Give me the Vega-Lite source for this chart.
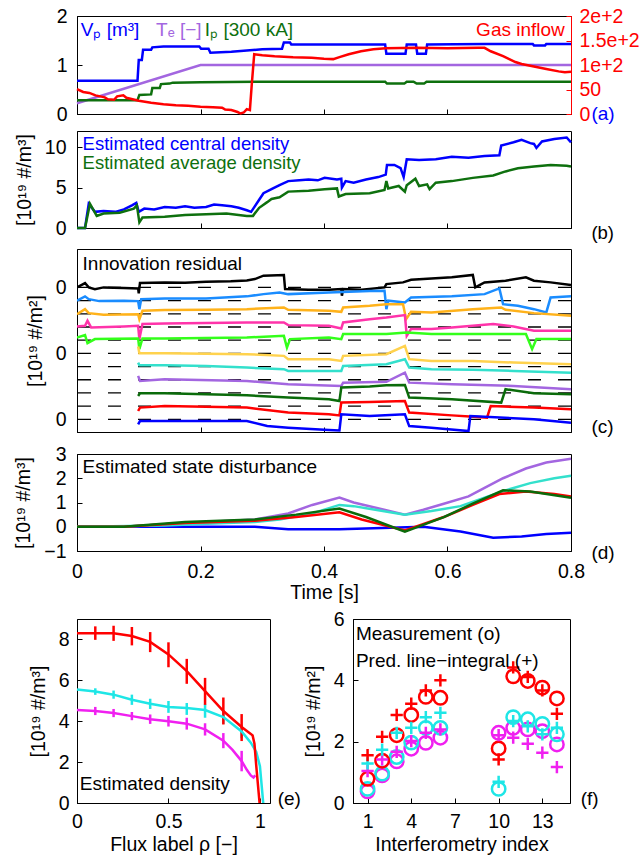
{
"$schema": "https://vega.github.io/schema/vega-lite/v6.json",
"padding": {"left": 13, "top": 5, "right": 0, "bottom": 0},
"spacing": 5,
"resolve": {"scale": {"color": "independent"}},
"config": {
 "font": "Liberation Sans",
 "view": {"stroke": "#000000", "strokeWidth": 1},
 "axis": {"grid": false, "domainColor": "#000000", "tickColor": "#000000", "tickSize": -5, "labelFontSize": 19.5, "labelColor": "#000000", "titleFontSize": 19.5, "titleFontWeight": "normal", "titleColor": "#000000", "labelPadding": 16, "titlePadding": 10, "labelFlush": false, "labelOverlap": false},
 "text": {"font": "Liberation Sans", "fontSize": 19}
},
"vconcat": [
{
 "width": 494, "height": 98,
 "layer": [
  {"layer": [
   {"data": {"values": [
    {"s":"Vp","t":0,"y":0.68},{"s":"Vp","t":0.098,"y":0.68},{"s":"Vp","t":0.1,"y":1.1},{"s":"Vp","t":0.105,"y":1.1},{"s":"Vp","t":0.107,"y":1.31},{"s":"Vp","t":0.12,"y":1.31},{"s":"Vp","t":0.122,"y":1.36},{"s":"Vp","t":0.14,"y":1.38},{"s":"Vp","t":0.198,"y":1.38},{"s":"Vp","t":0.201,"y":1.33},{"s":"Vp","t":0.213,"y":1.33},{"s":"Vp","t":0.216,"y":1.25},{"s":"Vp","t":0.25,"y":1.27},{"s":"Vp","t":0.28,"y":1.3},{"s":"Vp","t":0.3,"y":1.32},{"s":"Vp","t":0.332,"y":1.33},{"s":"Vp","t":0.335,"y":1.46},{"s":"Vp","t":0.345,"y":1.46},{"s":"Vp","t":0.347,"y":1.42},{"s":"Vp","t":0.499,"y":1.42},{"s":"Vp","t":0.501,"y":1.23},{"s":"Vp","t":0.532,"y":1.23},{"s":"Vp","t":0.534,"y":1.42},{"s":"Vp","t":0.549,"y":1.42},{"s":"Vp","t":0.551,"y":1.23},{"s":"Vp","t":0.565,"y":1.23},{"s":"Vp","t":0.567,"y":1.42},{"s":"Vp","t":0.66,"y":1.43},{"s":"Vp","t":0.738,"y":1.43},{"s":"Vp","t":0.74,"y":1.4},{"s":"Vp","t":0.758,"y":1.4},{"s":"Vp","t":0.76,"y":1.43},{"s":"Vp","t":0.8,"y":1.43},
    {"s":"Te","t":0,"y":0.22},{"s":"Te","t":0.2,"y":1.0},{"s":"Te","t":0.8,"y":1.0},
    {"s":"Ip","t":0,"y":0.28},{"s":"Ip","t":0.098,"y":0.28},{"s":"Ip","t":0.101,"y":0.39},{"s":"Ip","t":0.12,"y":0.4},{"s":"Ip","t":0.122,"y":0.53},{"s":"Ip","t":0.134,"y":0.53},{"s":"Ip","t":0.136,"y":0.61},{"s":"Ip","t":0.15,"y":0.62},{"s":"Ip","t":0.155,"y":0.64},{"s":"Ip","t":0.2,"y":0.65},{"s":"Ip","t":0.3,"y":0.66},{"s":"Ip","t":0.499,"y":0.66},{"s":"Ip","t":0.502,"y":0.62},{"s":"Ip","t":0.53,"y":0.62},{"s":"Ip","t":0.534,"y":0.66},{"s":"Ip","t":0.545,"y":0.66},{"s":"Ip","t":0.55,"y":0.62},{"s":"Ip","t":0.562,"y":0.62},{"s":"Ip","t":0.566,"y":0.66},{"s":"Ip","t":0.8,"y":0.66}
   ]},
   "mark": {"type": "line", "strokeWidth": 2.5},
   "encoding": {
    "x": {"field":"t","type":"quantitative","scale":{"domain":[0,0.8],"nice":false},"axis":{"values":[0,0.2,0.4,0.6,0.8],"tickCount":10,"labels":false,"title":null}},
    "y": {"field":"y","type":"quantitative","scale":{"domain":[0,2],"nice":false},"axis":{"values":[0,1,2],"tickCount":10,"format":"~g","title":null,"labelPadding":15}},
    "color": {"field":"s","type":"nominal","scale":{"domain":["Vp","Te","Ip"],"range":["#0000ff","#a366e0","#0e700e"]},"legend":null}
   }},
   {"data": {"values": [
    {"s":"Vp","t":0.006,"y":1.72,"label":"Vₚ [m³]"},
    {"s":"Te","t":0.128,"y":1.72,"label":"Tₑ [−]"},
    {"s":"Ip","t":0.207,"y":1.72,"label":"Iₚ [300 kA]"},
    {"s":"lab","t":0.833,"y":0.0,"label":"(a)"}
   ]},
   "mark": {"type":"text","align":"left","baseline":"middle","fontSize":19},
   "encoding": {
    "x": {"field":"t","type":"quantitative","scale":{"domain":[0,0.8],"nice":false}},
    "y": {"field":"y","type":"quantitative","scale":{"domain":[0,2],"nice":false}},
    "text": {"field":"label"},
    "color": {"field":"s","type":"nominal","scale":{"domain":["Vp","Te","Ip","lab"],"range":["#0000ff","#a366e0","#0e700e","#000000"]},"legend":null}
   }}
  ]},
  {"layer": [
   {"data": {"values": [
    {"t":0,"g":51},{"t":0.01,"g":45},{"t":0.02,"g":43},{"t":0.03,"g":38},{"t":0.045,"g":34},{"t":0.05,"g":30},{"t":0.06,"g":29},{"t":0.065,"g":36},{"t":0.075,"g":38},{"t":0.08,"g":33},{"t":0.09,"g":30},{"t":0.1,"g":27},{"t":0.12,"g":23},{"t":0.14,"g":20},{"t":0.16,"g":18},{"t":0.18,"g":17},{"t":0.2,"g":15},{"t":0.22,"g":14},{"t":0.235,"g":13},{"t":0.24,"g":9},{"t":0.25,"g":8},{"t":0.26,"g":4},{"t":0.265,"g":1},{"t":0.27,"g":3},{"t":0.275,"g":10},{"t":0.28,"g":8},{"t":0.283,"g":60},{"t":0.287,"g":122},{"t":0.3,"g":120},{"t":0.32,"g":118},{"t":0.35,"g":116},{"t":0.38,"g":115},{"t":0.4,"g":113},{"t":0.415,"g":112},{"t":0.425,"g":116},{"t":0.44,"g":122},{"t":0.46,"g":128},{"t":0.48,"g":132},{"t":0.5,"g":134},{"t":0.55,"g":135},{"t":0.6,"g":134},{"t":0.65,"g":135},{"t":0.66,"g":135},{"t":0.67,"g":128},{"t":0.69,"g":118},{"t":0.7,"g":112},{"t":0.71,"g":106},{"t":0.72,"g":102},{"t":0.74,"g":97},{"t":0.76,"g":92},{"t":0.78,"g":87},{"t":0.79,"g":85},{"t":0.8,"g":86}
   ]},
   "mark": {"type":"line","strokeWidth":2.5,"color":"#ff0000"},
   "encoding": {
    "x": {"field":"t","type":"quantitative","scale":{"domain":[0,0.8],"nice":false}},
    "y": {"field":"g","type":"quantitative","scale":{"domain":[0,200],"nice":false},"axis":{"orient":"right","values":[0,50,100,150,200],"tickCount":10,"format":"~g","title":"[mbar*L/s]","titleColor":"#ff0000","labelColor":"#ff0000","tickColor":"#ff0000","domainColor":"#ff0000","titleAngle":270,"titleBaseline":"top","labelPadding":13,"titlePadding":8}}
   }},
   {"data": {"values": [{"t":0.79,"g":172,"label":"Gas inflow"}]},
   "mark": {"type":"text","align":"right","baseline":"middle","fontSize":19,"color":"#ff0000"},
   "encoding": {"x":{"field":"t","type":"quantitative","scale":{"domain":[0,0.8],"nice":false}},"y":{"field":"g","type":"quantitative","scale":{"domain":[0,200],"nice":false}},"text":{"field":"label"}}}
  ]}
 ],
 "resolve": {"scale": {"y": "independent"}}
},
{
 "width": 494, "height": 97,
 "layer": [
  {"data": {"values": [
   {"s":"central","t":0,"y":0},{"s":"central","t":0.013,"y":0},{"s":"central","t":0.019,"y":3.0},{"s":"central","t":0.029,"y":2.0},{"s":"central","t":0.043,"y":2.1},{"s":"central","t":0.062,"y":2.0},{"s":"central","t":0.076,"y":2.3},{"s":"central","t":0.089,"y":2.8},{"s":"central","t":0.096,"y":3.1},{"s":"central","t":0.1,"y":2.0},{"s":"central","t":0.109,"y":2.4},{"s":"central","t":0.125,"y":2.3},{"s":"central","t":0.142,"y":2.6},{"s":"central","t":0.16,"y":2.5},{"s":"central","t":0.175,"y":2.7},{"s":"central","t":0.19,"y":2.5},{"s":"central","t":0.209,"y":2.6},{"s":"central","t":0.222,"y":2.9},{"s":"central","t":0.235,"y":2.8},{"s":"central","t":0.25,"y":2.7},{"s":"central","t":0.262,"y":2.5},{"s":"central","t":0.275,"y":2.2},{"s":"central","t":0.282,"y":2.0},{"s":"central","t":0.295,"y":3.5},{"s":"central","t":0.302,"y":4.3},{"s":"central","t":0.315,"y":4.8},{"s":"central","t":0.328,"y":5.3},{"s":"central","t":0.342,"y":5.8},{"s":"central","t":0.36,"y":5.9},{"s":"central","t":0.375,"y":6.0},{"s":"central","t":0.39,"y":5.9},{"s":"central","t":0.401,"y":6.2},{"s":"central","t":0.421,"y":6.0},{"s":"central","t":0.428,"y":6.1},{"s":"central","t":0.429,"y":5.0},{"s":"central","t":0.435,"y":5.8},{"s":"central","t":0.448,"y":5.6},{"s":"central","t":0.468,"y":6.0},{"s":"central","t":0.488,"y":6.3},{"s":"central","t":0.5,"y":6.6},{"s":"central","t":0.502,"y":7.8},{"s":"central","t":0.514,"y":7.8},{"s":"central","t":0.524,"y":7.4},{"s":"central","t":0.529,"y":6.3},{"s":"central","t":0.534,"y":8.5},{"s":"central","t":0.554,"y":8.4},{"s":"central","t":0.581,"y":8.5},{"s":"central","t":0.607,"y":8.8},{"s":"central","t":0.634,"y":8.7},{"s":"central","t":0.66,"y":8.9},{"s":"central","t":0.684,"y":9.0},{"s":"central","t":0.687,"y":10.2},{"s":"central","t":0.707,"y":10.6},{"s":"central","t":0.72,"y":10.9},{"s":"central","t":0.734,"y":10.5},{"s":"central","t":0.74,"y":10.4},{"s":"central","t":0.744,"y":9.9},{"s":"central","t":0.753,"y":10.7},{"s":"central","t":0.773,"y":11.0},{"s":"central","t":0.793,"y":11.2},{"s":"central","t":0.8,"y":10.6},
   {"s":"average","t":0,"y":0},{"s":"average","t":0.013,"y":0},{"s":"average","t":0.021,"y":3.0},{"s":"average","t":0.032,"y":1.5},{"s":"average","t":0.043,"y":1.8},{"s":"average","t":0.069,"y":1.9},{"s":"average","t":0.092,"y":2.4},{"s":"average","t":0.097,"y":2.8},{"s":"average","t":0.101,"y":0.7},{"s":"average","t":0.106,"y":1.3},{"s":"average","t":0.142,"y":1.4},{"s":"average","t":0.175,"y":1.6},{"s":"average","t":0.209,"y":1.7},{"s":"average","t":0.242,"y":1.8},{"s":"average","t":0.275,"y":1.5},{"s":"average","t":0.285,"y":1.5},{"s":"average","t":0.295,"y":2.5},{"s":"average","t":0.308,"y":3.2},{"s":"average","t":0.315,"y":3.6},{"s":"average","t":0.328,"y":3.8},{"s":"average","t":0.342,"y":4.5},{"s":"average","t":0.375,"y":4.6},{"s":"average","t":0.401,"y":4.8},{"s":"average","t":0.421,"y":4.9},{"s":"average","t":0.424,"y":3.9},{"s":"average","t":0.435,"y":4.2},{"s":"average","t":0.474,"y":4.3},{"s":"average","t":0.498,"y":4.7},{"s":"average","t":0.501,"y":5.8},{"s":"average","t":0.504,"y":4.9},{"s":"average","t":0.521,"y":5.2},{"s":"average","t":0.531,"y":4.5},{"s":"average","t":0.534,"y":5.3},{"s":"average","t":0.548,"y":6.1},{"s":"average","t":0.554,"y":5.2},{"s":"average","t":0.567,"y":5.4},{"s":"average","t":0.571,"y":4.8},{"s":"average","t":0.581,"y":5.6},{"s":"average","t":0.607,"y":5.8},{"s":"average","t":0.641,"y":6.2},{"s":"average","t":0.674,"y":6.5},{"s":"average","t":0.694,"y":7.0},{"s":"average","t":0.714,"y":7.4},{"s":"average","t":0.74,"y":7.6},{"s":"average","t":0.767,"y":7.8},{"s":"average","t":0.793,"y":7.7},{"s":"average","t":0.8,"y":7.6}
  ]},
  "mark": {"type":"line","strokeWidth":2.5},
  "encoding": {
   "x": {"field":"t","type":"quantitative","scale":{"domain":[0,0.8],"nice":false},"axis":{"values":[0,0.2,0.4,0.6,0.8],"tickCount":10,"labels":false,"title":null}},
   "y": {"field":"y","type":"quantitative","scale":{"domain":[0,12],"nice":false},"axis":{"values":[0,5,10],"tickCount":10,"format":"~g","title":"[10¹⁹ #/m³]"}},
   "color": {"field":"s","type":"nominal","scale":{"domain":["central","average","lab"],"range":["#0000ff","#0e700e","#000000"]},"legend":null}
  }},
  {"data": {"values": [
   {"s":"central","t":0.009,"y":10.45,"label":"Estimated central density"},
   {"s":"average","t":0.009,"y":8.05,"label":"Estimated average density"},
   {"s":"lab","t":0.833,"y":-0.58,"label":"(b)"}
  ]},
  "mark": {"type":"text","align":"left","baseline":"middle","fontSize":18.5},
  "encoding": {"x":{"field":"t","type":"quantitative","scale":{"domain":[0,0.8],"nice":false}},"y":{"field":"y","type":"quantitative","scale":{"domain":[0,12],"nice":false}},"text":{"field":"label"},"color":{"field":"s","type":"nominal","legend":null}}}
 ]
},
{
 "width": 494, "height": 183,
 "layer": [
  {"data": {"values": [{"b":0},{"b":-1},{"b":-2},{"b":-3},{"b":-4},{"b":-5},{"b":-6},{"b":-7},{"b":-8},{"b":-9},{"b":-10}]},
  "mark": {"type":"rule","color":"#000000","strokeWidth":1.3,"strokeDash":[13,17]},
  "encoding": {"y":{"field":"b","type":"quantitative","scale":{"domain":[-10.96,2.91],"nice":false,"zero":false},"axis":{"values":[0,-5,-10],"tickCount":10,"labelExpr":"'0'","title":"[10¹⁹ #/m²]"}}}},
  {"data": {"values": [
   {"s":"c0","t":0,"y":0},{"s":"c0","t":0.013,"y":0.33},{"s":"c0","t":0.019,"y":0},{"s":"c0","t":0.029,"y":-0.13},{"s":"c0","t":0.043,"y":0},{"s":"c0","t":0.076,"y":-0.05},{"s":"c0","t":0.099,"y":-0.08},{"s":"c0","t":0.1,"y":-0.46},{"s":"c0","t":0.102,"y":0.33},{"s":"c0","t":0.142,"y":0.38},{"s":"c0","t":0.175,"y":0.35},{"s":"c0","t":0.209,"y":0.43},{"s":"c0","t":0.249,"y":0.46},{"s":"c0","t":0.275,"y":0.53},{"s":"c0","t":0.288,"y":0.63},{"s":"c0","t":0.302,"y":0.89},{"s":"c0","t":0.335,"y":0.94},{"s":"c0","t":0.337,"y":-0.13},{"s":"c0","t":0.375,"y":-0.18},{"s":"c0","t":0.408,"y":-0.18},{"s":"c0","t":0.428,"y":-0.13},{"s":"c0","t":0.429,"y":-0.63},{"s":"c0","t":0.431,"y":-0.13},{"s":"c0","t":0.461,"y":-0.18},{"s":"c0","t":0.498,"y":0},{"s":"c0","t":0.501,"y":0.25},{"s":"c0","t":0.528,"y":0.38},{"s":"c0","t":0.541,"y":0.58},{"s":"c0","t":0.574,"y":0.68},{"s":"c0","t":0.607,"y":0.76},{"s":"c0","t":0.641,"y":0.94},{"s":"c0","t":0.645,"y":0},{"s":"c0","t":0.66,"y":0.38},{"s":"c0","t":0.694,"y":0.51},{"s":"c0","t":0.727,"y":0.76},{"s":"c0","t":0.74,"y":0.51},{"s":"c0","t":0.767,"y":0.38},{"s":"c0","t":0.8,"y":0.18},
   {"s":"c1","t":0,"y":-1.01},{"s":"c1","t":0.013,"y":-0.68},{"s":"c1","t":0.019,"y":-0.89},{"s":"c1","t":0.036,"y":-1.04},{"s":"c1","t":0.076,"y":-1.01},{"s":"c1","t":0.099,"y":-1.04},{"s":"c1","t":0.101,"y":-1.65},{"s":"c1","t":0.104,"y":-0.89},{"s":"c1","t":0.142,"y":-0.84},{"s":"c1","t":0.209,"y":-0.84},{"s":"c1","t":0.275,"y":-0.68},{"s":"c1","t":0.302,"y":-0.51},{"s":"c1","t":0.328,"y":-0.38},{"s":"c1","t":0.342,"y":-0.51},{"s":"c1","t":0.408,"y":-0.38},{"s":"c1","t":0.474,"y":-0.28},{"s":"c1","t":0.498,"y":-0.25},{"s":"c1","t":0.501,"y":-1.65},{"s":"c1","t":0.504,"y":-1.01},{"s":"c1","t":0.531,"y":-1.14},{"s":"c1","t":0.541,"y":-0.76},{"s":"c1","t":0.607,"y":-0.68},{"s":"c1","t":0.66,"y":-0.51},{"s":"c1","t":0.684,"y":-0.08},{"s":"c1","t":0.69,"y":-1.27},{"s":"c1","t":0.714,"y":-1.39},{"s":"c1","t":0.74,"y":-1.65},{"s":"c1","t":0.76,"y":-1.9},{"s":"c1","t":0.767,"y":-0.76},{"s":"c1","t":0.8,"y":-0.68},
   {"s":"c2","t":0,"y":-2.03},{"s":"c2","t":0.013,"y":-1.65},{"s":"c2","t":0.019,"y":-1.95},{"s":"c2","t":0.043,"y":-2.08},{"s":"c2","t":0.099,"y":-2.03},{"s":"c2","t":0.101,"y":-2.41},{"s":"c2","t":0.106,"y":-1.77},{"s":"c2","t":0.142,"y":-1.72},{"s":"c2","t":0.209,"y":-1.7},{"s":"c2","t":0.275,"y":-1.65},{"s":"c2","t":0.335,"y":-1.52},{"s":"c2","t":0.342,"y":-1.7},{"s":"c2","t":0.408,"y":-1.77},{"s":"c2","t":0.428,"y":-1.85},{"s":"c2","t":0.431,"y":-1.52},{"s":"c2","t":0.474,"y":-1.39},{"s":"c2","t":0.501,"y":-1.27},{"s":"c2","t":0.528,"y":-1.27},{"s":"c2","t":0.533,"y":-2.41},{"s":"c2","t":0.541,"y":-1.85},{"s":"c2","t":0.574,"y":-1.9},{"s":"c2","t":0.641,"y":-1.65},{"s":"c2","t":0.687,"y":-1.52},{"s":"c2","t":0.694,"y":-1.7},{"s":"c2","t":0.74,"y":-1.95},{"s":"c2","t":0.8,"y":-2.15},
   {"s":"c3","t":0,"y":-2.96},{"s":"c3","t":0.013,"y":-2.91},{"s":"c3","t":0.017,"y":-2.53},{"s":"c3","t":0.023,"y":-3.04},{"s":"c3","t":0.076,"y":-2.96},{"s":"c3","t":0.099,"y":-2.91},{"s":"c3","t":0.101,"y":-3.92},{"s":"c3","t":0.106,"y":-2.78},{"s":"c3","t":0.142,"y":-2.73},{"s":"c3","t":0.275,"y":-2.66},{"s":"c3","t":0.335,"y":-2.66},{"s":"c3","t":0.342,"y":-2.86},{"s":"c3","t":0.408,"y":-2.91},{"s":"c3","t":0.428,"y":-3.11},{"s":"c3","t":0.431,"y":-2.66},{"s":"c3","t":0.474,"y":-2.41},{"s":"c3","t":0.501,"y":-2.28},{"s":"c3","t":0.531,"y":-2.1},{"s":"c3","t":0.534,"y":-3.67},{"s":"c3","t":0.541,"y":-3.16},{"s":"c3","t":0.574,"y":-3.16},{"s":"c3","t":0.607,"y":-3.04},{"s":"c3","t":0.674,"y":-2.78},{"s":"c3","t":0.707,"y":-2.96},{"s":"c3","t":0.74,"y":-3.29},{"s":"c3","t":0.8,"y":-3.29},
   {"s":"c4","t":0,"y":-3.8},{"s":"c4","t":0.013,"y":-3.62},{"s":"c4","t":0.017,"y":-4.23},{"s":"c4","t":0.029,"y":-3.92},{"s":"c4","t":0.099,"y":-3.87},{"s":"c4","t":0.101,"y":-4.68},{"s":"c4","t":0.106,"y":-3.87},{"s":"c4","t":0.142,"y":-3.87},{"s":"c4","t":0.275,"y":-3.8},{"s":"c4","t":0.335,"y":-3.67},{"s":"c4","t":0.34,"y":-4.56},{"s":"c4","t":0.345,"y":-3.92},{"s":"c4","t":0.408,"y":-3.8},{"s":"c4","t":0.428,"y":-3.92},{"s":"c4","t":0.431,"y":-3.54},{"s":"c4","t":0.501,"y":-3.54},{"s":"c4","t":0.534,"y":-3.42},{"s":"c4","t":0.574,"y":-3.54},{"s":"c4","t":0.641,"y":-3.54},{"s":"c4","t":0.727,"y":-3.54},{"s":"c4","t":0.737,"y":-4.68},{"s":"c4","t":0.744,"y":-3.92},{"s":"c4","t":0.8,"y":-3.92},
   {"s":"c5","t":0.099,"y":-4.48},{"s":"c5","t":0.101,"y":-4.99},{"s":"c5","t":0.142,"y":-4.99},{"s":"c5","t":0.275,"y":-5.06},{"s":"c5","t":0.335,"y":-5.19},{"s":"c5","t":0.342,"y":-5.44},{"s":"c5","t":0.408,"y":-5.44},{"s":"c5","t":0.428,"y":-5.57},{"s":"c5","t":0.431,"y":-5.19},{"s":"c5","t":0.501,"y":-5.06},{"s":"c5","t":0.531,"y":-4.43},{"s":"c5","t":0.538,"y":-5.44},{"s":"c5","t":0.574,"y":-5.57},{"s":"c5","t":0.641,"y":-5.57},{"s":"c5","t":0.707,"y":-5.7},{"s":"c5","t":0.8,"y":-5.82},
   {"s":"c6","t":0.099,"y":-5.7},{"s":"c6","t":0.101,"y":-5.9},{"s":"c6","t":0.142,"y":-5.9},{"s":"c6","t":0.209,"y":-5.95},{"s":"c6","t":0.275,"y":-6.08},{"s":"c6","t":0.335,"y":-6.2},{"s":"c6","t":0.342,"y":-6.33},{"s":"c6","t":0.428,"y":-6.33},{"s":"c6","t":0.431,"y":-5.95},{"s":"c6","t":0.501,"y":-5.82},{"s":"c6","t":0.531,"y":-5.44},{"s":"c6","t":0.538,"y":-6.08},{"s":"c6","t":0.574,"y":-6.2},{"s":"c6","t":0.641,"y":-6.25},{"s":"c6","t":0.707,"y":-6.33},{"s":"c6","t":0.8,"y":-6.46},
   {"s":"c7","t":0.099,"y":-6.71},{"s":"c7","t":0.102,"y":-7.09},{"s":"c7","t":0.142,"y":-6.96},{"s":"c7","t":0.275,"y":-7.09},{"s":"c7","t":0.342,"y":-7.34},{"s":"c7","t":0.428,"y":-7.47},{"s":"c7","t":0.431,"y":-7.22},{"s":"c7","t":0.501,"y":-7.16},{"s":"c7","t":0.531,"y":-6.46},{"s":"c7","t":0.538,"y":-7.22},{"s":"c7","t":0.607,"y":-7.34},{"s":"c7","t":0.707,"y":-7.47},{"s":"c7","t":0.8,"y":-7.72},
   {"s":"c8","t":0.099,"y":-8.23},{"s":"c8","t":0.102,"y":-8.03},{"s":"c8","t":0.142,"y":-8.03},{"s":"c8","t":0.275,"y":-8.18},{"s":"c8","t":0.342,"y":-8.35},{"s":"c8","t":0.408,"y":-8.48},{"s":"c8","t":0.425,"y":-8.61},{"s":"c8","t":0.428,"y":-7.59},{"s":"c8","t":0.474,"y":-7.52},{"s":"c8","t":0.501,"y":-7.42},{"s":"c8","t":0.531,"y":-7.39},{"s":"c8","t":0.538,"y":-8.35},{"s":"c8","t":0.607,"y":-8.48},{"s":"c8","t":0.687,"y":-8.73},{"s":"c8","t":0.694,"y":-7.72},{"s":"c8","t":0.74,"y":-8.03},{"s":"c8","t":0.8,"y":-8.1},
   {"s":"c9","t":0.099,"y":-9.37},{"s":"c9","t":0.102,"y":-9.11},{"s":"c9","t":0.142,"y":-8.99},{"s":"c9","t":0.275,"y":-9.11},{"s":"c9","t":0.342,"y":-9.49},{"s":"c9","t":0.408,"y":-9.62},{"s":"c9","t":0.425,"y":-9.7},{"s":"c9","t":0.428,"y":-8.73},{"s":"c9","t":0.474,"y":-8.68},{"s":"c9","t":0.531,"y":-8.61},{"s":"c9","t":0.538,"y":-9.49},{"s":"c9","t":0.607,"y":-9.7},{"s":"c9","t":0.664,"y":-9.87},{"s":"c9","t":0.67,"y":-8.99},{"s":"c9","t":0.74,"y":-9.11},{"s":"c9","t":0.8,"y":-9.24},
   {"s":"c10","t":0.099,"y":-10.38},{"s":"c10","t":0.102,"y":-10.13},{"s":"c10","t":0.142,"y":-10.13},{"s":"c10","t":0.275,"y":-10.13},{"s":"c10","t":0.308,"y":-10.51},{"s":"c10","t":0.342,"y":-10.63},{"s":"c10","t":0.408,"y":-10.81},{"s":"c10","t":0.425,"y":-10.84},{"s":"c10","t":0.428,"y":-9.62},{"s":"c10","t":0.474,"y":-9.75},{"s":"c10","t":0.531,"y":-9.62},{"s":"c10","t":0.538,"y":-10.51},{"s":"c10","t":0.574,"y":-10.63},{"s":"c10","t":0.634,"y":-10.89},{"s":"c10","t":0.637,"y":-9.75},{"s":"c10","t":0.74,"y":-10.0},{"s":"c10","t":0.8,"y":-10.25}
  ]},
  "mark": {"type":"line","strokeWidth":2.5,"clip":true},
  "encoding": {
   "x": {"field":"t","type":"quantitative","scale":{"domain":[0,0.8],"nice":false},"axis":{"values":[0,0.2,0.4,0.6,0.8],"tickCount":10,"labels":false,"title":null}},
   "y": {"field":"y","type":"quantitative","scale":{"domain":[-10.96,2.91],"nice":false,"zero":false}},
   "color": {"field":"s","type":"nominal","scale":{"domain":["c0","c1","c2","c3","c4","c5","c6","c7","c8","c9","c10"],"range":["#000000","#1a8cff","#ffb21a","#ff33aa","#33ff1a","#ffd24d","#33e0cc","#a366e0","#0a6b0a","#ff0000","#0000ff"]},"legend":null}
  }},
  {"data": {"values": [{"t":0.009,"y":1.77,"label":"Innovation residual"},{"t":0.833,"y":-10.59,"label":"(c)"}]},
  "mark": {"type":"text","align":"left","baseline":"middle","fontSize":19,"color":"#000000"},
  "encoding": {"x":{"field":"t","type":"quantitative","scale":{"domain":[0,0.8],"nice":false}},"y":{"field":"y","type":"quantitative","scale":{"domain":[-10.96,2.91],"nice":false,"zero":false}},"text":{"field":"label"}}}
 ]
},
{
 "width": 494, "height": 97,
 "layer": [
  {"data": {"values": [
   {"s":"blue","t":0,"y":0},{"s":"blue","t":0.288,"y":0},{"s":"blue","t":0.342,"y":-0.1},{"s":"blue","t":0.425,"y":-0.1},{"s":"blue","t":0.494,"y":-0.05},{"s":"blue","t":0.561,"y":0},{"s":"blue","t":0.621,"y":-0.2},{"s":"blue","t":0.674,"y":-0.45},{"s":"blue","t":0.72,"y":-0.4},{"s":"blue","t":0.76,"y":-0.3},{"s":"blue","t":0.8,"y":-0.25},
   {"s":"purple","t":0,"y":0},{"s":"purple","t":0.076,"y":0},{"s":"purple","t":0.142,"y":0.1},{"s":"purple","t":0.209,"y":0.2},{"s":"purple","t":0.288,"y":0.3},{"s":"purple","t":0.342,"y":0.55},{"s":"purple","t":0.381,"y":0.9},{"s":"purple","t":0.425,"y":1.2},{"s":"purple","t":0.448,"y":1.0},{"s":"purple","t":0.531,"y":0.5},{"s":"purple","t":0.561,"y":0.7},{"s":"purple","t":0.594,"y":0.95},{"s":"purple","t":0.634,"y":1.25},{"s":"purple","t":0.66,"y":1.6},{"s":"purple","t":0.69,"y":2.0},{"s":"purple","t":0.727,"y":2.4},{"s":"purple","t":0.76,"y":2.65},{"s":"purple","t":0.8,"y":2.8},
   {"s":"cyan","t":0,"y":0},{"s":"cyan","t":0.142,"y":0.05},{"s":"cyan","t":0.242,"y":0.15},{"s":"cyan","t":0.288,"y":0.2},{"s":"cyan","t":0.328,"y":0.3},{"s":"cyan","t":0.381,"y":0.55},{"s":"cyan","t":0.425,"y":0.9},{"s":"cyan","t":0.448,"y":0.85},{"s":"cyan","t":0.531,"y":0.5},{"s":"cyan","t":0.574,"y":0.65},{"s":"cyan","t":0.621,"y":0.85},{"s":"cyan","t":0.66,"y":1.2},{"s":"cyan","t":0.694,"y":1.5},{"s":"cyan","t":0.734,"y":1.8},{"s":"cyan","t":0.773,"y":2.0},{"s":"cyan","t":0.8,"y":2.1},
   {"s":"red","t":0,"y":0},{"s":"red","t":0.076,"y":0},{"s":"red","t":0.175,"y":0.15},{"s":"red","t":0.288,"y":0.25},{"s":"red","t":0.355,"y":0.4},{"s":"red","t":0.425,"y":0.6},{"s":"red","t":0.461,"y":0.3},{"s":"red","t":0.531,"y":-0.15},{"s":"red","t":0.594,"y":0.4},{"s":"red","t":0.641,"y":0.9},{"s":"red","t":0.684,"y":1.35},{"s":"red","t":0.727,"y":1.45},{"s":"red","t":0.773,"y":1.35},{"s":"red","t":0.8,"y":1.25},
   {"s":"green","t":0,"y":0},{"s":"green","t":0.076,"y":0},{"s":"green","t":0.175,"y":0.2},{"s":"green","t":0.288,"y":0.3},{"s":"green","t":0.355,"y":0.5},{"s":"green","t":0.425,"y":0.75},{"s":"green","t":0.468,"y":0.4},{"s":"green","t":0.531,"y":-0.2},{"s":"green","t":0.594,"y":0.4},{"s":"green","t":0.641,"y":0.95},{"s":"green","t":0.69,"y":1.5},{"s":"green","t":0.734,"y":1.45},{"s":"green","t":0.8,"y":1.2}
  ]},
  "mark": {"type":"line","strokeWidth":2.5},
  "encoding": {
   "x": {"field":"t","type":"quantitative","scale":{"domain":[0,0.8],"nice":false},"axis":{"values":[0,0.2,0.4,0.6,0.8],"tickCount":10,"format":"~g","title":"Time [s]","labelPadding":16,"titlePadding":3}},
   "y": {"field":"y","type":"quantitative","scale":{"domain":[-1,3],"nice":false},"axis":{"values":[-1,0,1,2,3],"tickCount":10,"format":"~g","title":"[10¹⁹ #/m³]"}},
   "color": {"field":"s","type":"nominal","scale":{"domain":["blue","purple","cyan","red","green"],"range":["#0000ff","#a366e0","#33e0cc","#ff0000","#0a6b0a"]},"legend":null}
  }},
  {"data": {"values": [{"t":0.009,"y":2.46,"label":"Estimated state disturbance"},{"t":0.833,"y":-1.08,"label":"(d)"}]},
  "mark": {"type":"text","align":"left","baseline":"middle","fontSize":19,"color":"#000000"},
  "encoding": {"x":{"field":"t","type":"quantitative","scale":{"domain":[0,0.8],"nice":false}},"y":{"field":"y","type":"quantitative","scale":{"domain":[-1,3],"nice":false}},"text":{"field":"label"}}}
 ]
},
{
 "hconcat": [
  {
   "width": 193, "height": 184,
   "layer": [
    {"data": {"values": [
     {"s":"m","x":0.1,"lo":4.3,"hi":4.7},{"s":"m","x":0.2,"lo":4.2,"hi":4.6},{"s":"m","x":0.3,"lo":4.05,"hi":4.45},{"s":"m","x":0.4,"lo":3.87,"hi":4.33},{"s":"m","x":0.5,"lo":3.74,"hi":4.26},{"s":"m","x":0.6,"lo":3.59,"hi":4.17},{"s":"m","x":0.7,"lo":3.3,"hi":3.9},{"s":"m","x":0.8,"lo":2.68,"hi":3.42},{"s":"m","x":0.9,"lo":1.55,"hi":2.55},
     {"s":"c","x":0.1,"lo":5.29,"hi":5.61},{"s":"c","x":0.2,"lo":5.1,"hi":5.5},{"s":"c","x":0.3,"lo":4.8,"hi":5.3},{"s":"c","x":0.4,"lo":4.6,"hi":5.1},{"s":"c","x":0.5,"lo":4.41,"hi":4.99},{"s":"c","x":0.6,"lo":4.31,"hi":4.89},{"s":"c","x":0.7,"lo":4.17,"hi":4.83},{"s":"c","x":0.8,"lo":3.87,"hi":4.53},{"s":"c","x":0.9,"lo":3.17,"hi":3.83},
     {"s":"r","x":0.1,"lo":7.98,"hi":8.64},{"s":"r","x":0.2,"lo":7.93,"hi":8.67},{"s":"r","x":0.3,"lo":7.71,"hi":8.61},{"s":"r","x":0.4,"lo":7.38,"hi":8.36},{"s":"r","x":0.5,"lo":6.64,"hi":7.86},{"s":"r","x":0.6,"lo":5.83,"hi":7.05},{"s":"r","x":0.7,"lo":4.8,"hi":6.12},{"s":"r","x":0.8,"lo":3.84,"hi":5.16},{"s":"r","x":0.9,"lo":3.03,"hi":4.35}
    ]},
    "mark": {"type":"rule","strokeWidth":2.5},
    "encoding": {
     "x": {"field":"x","type":"quantitative","scale":{"domain":[0,1.055],"nice":false},"axis":{"values":[0,0.5,1],"tickCount":10,"format":"~g","title":"Flux label ρ [−]","labelPadding":14,"titlePadding":5}},
     "y": {"field":"lo","type":"quantitative","scale":{"domain":[0,9],"nice":false},"axis":{"values":[0,2,4,6,8],"tickCount":10,"format":"~g","title":"[10¹⁹ #/m³]","labelPadding":13}},
     "y2": {"field":"hi"},
     "color": {"field":"s","type":"nominal","scale":{"domain":["m","c","r"],"range":["#f020f0","#1ee6e6","#ff0000"]},"legend":null}
    }},
    {"data": {"values": [
     {"s":"m","x":0,"y":4.55},{"s":"m","x":0.1,"y":4.5},{"s":"m","x":0.2,"y":4.4},{"s":"m","x":0.3,"y":4.25},{"s":"m","x":0.4,"y":4.1},{"s":"m","x":0.5,"y":4.0},{"s":"m","x":0.6,"y":3.88},{"s":"m","x":0.7,"y":3.6},{"s":"m","x":0.8,"y":3.05},{"s":"m","x":0.85,"y":2.6},{"s":"m","x":0.9,"y":2.05},{"s":"m","x":0.93,"y":1.6},{"s":"m","x":0.95,"y":1.35},{"s":"m","x":0.965,"y":1.25},{"s":"m","x":0.975,"y":1.35},
     {"s":"c","x":0,"y":5.55},{"s":"c","x":0.1,"y":5.45},{"s":"c","x":0.2,"y":5.3},{"s":"c","x":0.3,"y":5.05},{"s":"c","x":0.4,"y":4.85},{"s":"c","x":0.5,"y":4.7},{"s":"c","x":0.6,"y":4.65},{"s":"c","x":0.7,"y":4.55},{"s":"c","x":0.8,"y":4.2},{"s":"c","x":0.9,"y":3.5},{"s":"c","x":0.95,"y":2.95},{"s":"c","x":0.98,"y":2.5},{"s":"c","x":1.0,"y":1.8},{"s":"c","x":1.01,"y":0.8},{"s":"c","x":1.018,"y":0},
     {"s":"r","x":0,"y":8.3},{"s":"r","x":0.1,"y":8.3},{"s":"r","x":0.2,"y":8.3},{"s":"r","x":0.3,"y":8.17},{"s":"r","x":0.4,"y":7.88},{"s":"r","x":0.5,"y":7.27},{"s":"r","x":0.6,"y":6.45},{"s":"r","x":0.7,"y":5.47},{"s":"r","x":0.8,"y":4.5},{"s":"r","x":0.9,"y":3.72},{"s":"r","x":0.95,"y":3.38},{"s":"r","x":0.96,"y":3.3},{"s":"r","x":0.97,"y":2.9},{"s":"r","x":0.98,"y":1.8},{"s":"r","x":0.99,"y":0.8},{"s":"r","x":0.998,"y":0}
    ]},
    "mark": {"type":"line","strokeWidth":2.5},
    "encoding": {
     "x": {"field":"x","type":"quantitative","scale":{"domain":[0,1.055],"nice":false}},
     "y": {"field":"y","type":"quantitative","scale":{"domain":[0,9],"nice":false}},
     "color": {"field":"s","type":"nominal","legend":null}
    }},
    {"data": {"values": [{"x":0.015,"y":0.95,"label":"Estimated density"},{"x":1.097,"y":0.18,"label":"(e)"}]},
    "mark": {"type":"text","align":"left","baseline":"middle","fontSize":19,"color":"#000000"},
    "encoding": {"x":{"field":"x","type":"quantitative","scale":{"domain":[0,1.055],"nice":false}},"y":{"field":"y","type":"quantitative","scale":{"domain":[0,9],"nice":false}},"text":{"field":"label"}}}
   ]
  },
  {
   "width": 217, "height": 184,
   "layer": [
    {"data": {"values": [
     {"s":"m","i":1,"v":0.38},{"s":"m","i":2,"v":0.9},{"s":"m","i":3,"v":1.36},{"s":"m","i":4,"v":1.77},{"s":"m","i":5,"v":1.96},{"s":"m","i":6,"v":2.13},{"s":"m","i":10,"v":2.29},{"s":"m","i":11,"v":2.45},{"s":"m","i":12,"v":2.4},{"s":"m","i":13,"v":2.34},{"s":"m","i":14,"v":1.91},
     {"s":"c","i":1,"v":0.46},{"s":"c","i":2,"v":0.96},{"s":"c","i":3,"v":1.5},{"s":"c","i":4,"v":1.97},{"s":"c","i":5,"v":2.45},{"s":"c","i":6,"v":2.45},{"s":"c","i":10,"v":0.46},{"s":"c","i":11,"v":2.8},{"s":"c","i":12,"v":2.73},{"s":"c","i":13,"v":2.58},{"s":"c","i":14,"v":2.24},
     {"s":"r","i":1,"v":0.79},{"s":"r","i":2,"v":1.38},{"s":"r","i":3,"v":2.21},{"s":"r","i":4,"v":2.87},{"s":"r","i":5,"v":3.46},{"s":"r","i":6,"v":3.43},{"s":"r","i":10,"v":1.78},{"s":"r","i":11,"v":4.13},{"s":"r","i":12,"v":3.98},{"s":"r","i":13,"v":3.76},{"s":"r","i":14,"v":3.41}
    ]},
    "mark": {"type":"point","shape":"circle","filled":false,"size":180,"strokeWidth":2.5,"opacity":1},
    "encoding": {
     "x": {"field":"i","type":"quantitative","scale":{"domain":[0,14.9],"nice":false,"zero":false},"axis":{"values":[1,4,7,10,13],"tickCount":10,"format":"~g","title":"Interferometry index","labelPadding":14,"titlePadding":5}},
     "y": {"field":"v","type":"quantitative","scale":{"domain":[0,6],"nice":false},"axis":{"values":[0,2,4,6],"tickCount":10,"format":"~g","title":"[10¹⁹ #/m²]","labelPadding":14}},
     "color": {"field":"s","type":"nominal","scale":{"domain":["m","c","r"],"range":["#f020f0","#1ee6e6","#ff0000"]},"legend":null}
    }},
    {"data": {"values": [
     {"s":"m","i":1,"v":1.04},{"s":"m","i":2,"v":1.42},{"s":"m","i":3,"v":1.67},{"s":"m","i":4,"v":2.02},{"s":"m","i":5,"v":2.29},{"s":"m","i":6,"v":2.4},{"s":"m","i":10,"v":2.21},{"s":"m","i":11,"v":2.13},{"s":"m","i":12,"v":1.93},{"s":"m","i":13,"v":1.64},{"s":"m","i":14,"v":1.17},
     {"s":"c","i":1,"v":1.29},{"s":"c","i":2,"v":1.74},{"s":"c","i":3,"v":2.29},{"s":"c","i":4,"v":2.45},{"s":"c","i":5,"v":2.8},{"s":"c","i":6,"v":2.94},{"s":"c","i":10,"v":0.69},{"s":"c","i":11,"v":2.67},{"s":"c","i":12,"v":2.5},{"s":"c","i":13,"v":2.24},{"s":"c","i":14,"v":2.45},
     {"s":"r","i":1,"v":1.56},{"s":"r","i":2,"v":2.16},{"s":"r","i":3,"v":2.87},{"s":"r","i":4,"v":3.24},{"s":"r","i":5,"v":3.67},{"s":"r","i":6,"v":4.0},{"s":"r","i":10,"v":1.42},{"s":"r","i":11,"v":4.42},{"s":"r","i":12,"v":4.11},{"s":"r","i":13,"v":3.67},{"s":"r","i":14,"v":2.91}
    ]},
    "mark": {"type":"point","shape":"M-1,0L1,0M0,-1L0,1","filled":false,"size":150,"strokeWidth":2.5,"opacity":1},
    "encoding": {
     "x": {"field":"i","type":"quantitative","scale":{"domain":[0,14.9],"nice":false,"zero":false}},
     "y": {"field":"v","type":"quantitative","scale":{"domain":[0,6],"nice":false}},
     "color": {"field":"s","type":"nominal","legend":null}
    }},
    {"data": {"values": [{"i":0.2,"v":5.52,"label":"Measurement (o)"},{"i":0.2,"v":4.63,"label":"Pred. line−integral (+)"},{"i":15.63,"v":0.12,"label":"(f)"}]},
    "mark": {"type":"text","align":"left","baseline":"middle","fontSize":19,"color":"#000000"},
    "encoding": {"x":{"field":"i","type":"quantitative","scale":{"domain":[0,14.9],"nice":false,"zero":false}},"y":{"field":"v","type":"quantitative","scale":{"domain":[0,6],"nice":false}},"text":{"field":"label"}}}
   ]
  }
 ],
 "bounds": "flush",
 "spacing": 83,
 "resolve": {"scale": {"color": "independent"}}
}
]
}
